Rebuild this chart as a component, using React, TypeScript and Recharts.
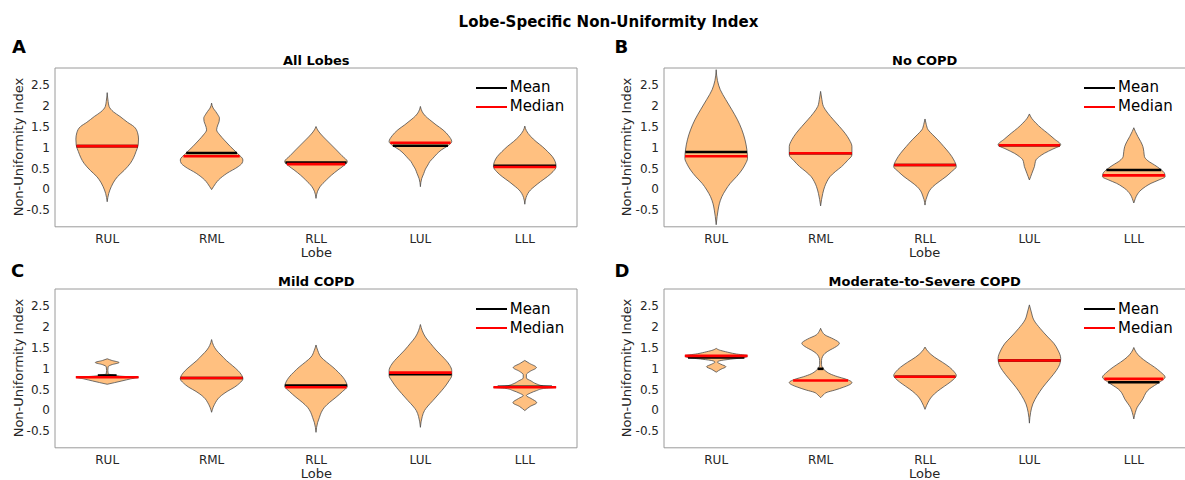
import React from 'react';
import { ComposedChart, Area, XAxis, YAxis, ReferenceLine, ReferenceArea, Legend } from 'recharts';

// ---------- data ----------
const lobes = ['RUL', 'RML', 'RLL', 'LUL', 'LLL'];
const lobeIndex = [1, 2, 3, 4, 5];
const panelLetters = ['A', 'B', 'C', 'D'];
const panelTitles = ['All Lobes', 'No COPD', 'Mild COPD', 'Moderate-to-Severe COPD'];
const yTicks = [-0.5, 0, 0.5, 1, 1.5, 2, 2.5];
const legendItems = [
  { name: 'Mean', color: '#000000' },
  { name: 'Median', color: '#ff0000' },
];

type Profile = [number, number][]; // [value, relative density 0..1]

// Panel A — All Lobes
const allLobesDensity: Profile[] = [
  [[2.31, 0], [2.1, 0.03], [1.98, 0.06], [1.85, 0.2], [1.74, 0.41], [1.6, 0.65], [1.5, 0.85], [1.35, 0.97], [1.2, 1.0], [1.06, 0.99], [0.9, 0.92], [0.75, 0.84], [0.62, 0.74], [0.45, 0.54], [0.3, 0.33], [0.15, 0.19], [0.06, 0.13], [-0.1, 0.05], [-0.2, 0.02], [-0.3, 0]],
  [[2.06, 0], [1.94, 0.05], [1.86, 0.13], [1.78, 0.2], [1.7, 0.25], [1.62, 0.24], [1.54, 0.2], [1.42, 0.16], [1.3, 0.26], [1.18, 0.4], [1.02, 0.6], [0.86, 0.82], [0.7, 1.0], [0.62, 0.97], [0.54, 0.85], [0.38, 0.49], [0.22, 0.22], [0.06, 0.06], [-0.01, 0]],
  [[1.5, 0], [1.42, 0.05], [1.32, 0.15], [1.18, 0.33], [0.94, 0.65], [0.8, 0.83], [0.66, 1.0], [0.56, 0.88], [0.46, 0.7], [0.34, 0.5], [0.22, 0.33], [0.06, 0.13], [-0.05, 0.05], [-0.22, 0]],
  [[1.98, 0], [1.85, 0.06], [1.75, 0.16], [1.66, 0.3], [1.54, 0.5], [1.42, 0.72], [1.28, 0.9], [1.14, 1.0], [1.04, 0.88], [0.94, 0.67], [0.84, 0.52], [0.74, 0.4], [0.66, 0.3], [0.58, 0.24], [0.48, 0.16], [0.38, 0.11], [0.25, 0.04], [0.06, 0]],
  [[1.51, 0], [1.4, 0.05], [1.26, 0.19], [1.14, 0.36], [1.02, 0.56], [0.9, 0.73], [0.78, 0.88], [0.66, 0.97], [0.54, 1.0], [0.42, 0.9], [0.3, 0.72], [0.18, 0.5], [0.06, 0.3], [-0.02, 0.18], [-0.1, 0.1], [-0.2, 0.04], [-0.36, 0]],
];
const allLobesMean = [1.03, 0.865, 0.64, 1.04, 0.56];
const allLobesMedian = [1.03, 0.79, 0.6, 1.11, 0.53];

// Panel B — No COPD
const noCopdDensity: Profile[] = [
  [[2.86, 0], [2.6, 0.04], [2.38, 0.13], [2.15, 0.3], [1.9, 0.5], [1.66, 0.68], [1.42, 0.82], [1.18, 0.92], [0.94, 0.98], [0.74, 1.0], [0.6, 0.93], [0.46, 0.82], [0.3, 0.65], [0.14, 0.45], [-0.02, 0.3], [-0.18, 0.18], [-0.35, 0.1], [-0.5, 0.06], [-0.65, 0.03], [-0.85, 0]],
  [[2.34, 0], [2.15, 0.04], [1.98, 0.09], [1.82, 0.23], [1.66, 0.41], [1.5, 0.6], [1.34, 0.78], [1.18, 0.92], [1.02, 1.0], [0.82, 1.0], [0.68, 0.85], [0.54, 0.67], [0.42, 0.47], [0.3, 0.3], [0.18, 0.2], [0.06, 0.13], [-0.1, 0.07], [-0.25, 0.03], [-0.4, 0]],
  [[1.68, 0], [1.55, 0.04], [1.42, 0.1], [1.3, 0.25], [1.18, 0.41], [1.02, 0.6], [0.86, 0.78], [0.7, 0.92], [0.54, 1.0], [0.42, 0.85], [0.3, 0.67], [0.18, 0.45], [0.06, 0.25], [-0.04, 0.14], [-0.14, 0.08], [-0.25, 0.03], [-0.38, 0]],
  [[1.8, 0], [1.7, 0.07], [1.58, 0.21], [1.46, 0.38], [1.34, 0.58], [1.2, 0.8], [1.06, 1.0], [0.96, 0.75], [0.86, 0.48], [0.78, 0.32], [0.7, 0.21], [0.62, 0.18], [0.54, 0.16], [0.46, 0.12], [0.38, 0.08], [0.3, 0.04], [0.22, 0]],
  [[1.47, 0], [1.38, 0.05], [1.26, 0.13], [1.14, 0.22], [1.02, 0.29], [0.9, 0.32], [0.78, 0.34], [0.68, 0.45], [0.58, 0.66], [0.48, 0.85], [0.38, 0.98], [0.3, 1.0], [0.22, 0.8], [0.14, 0.55], [0.06, 0.37], [-0.02, 0.23], [-0.14, 0.1], [-0.22, 0.05], [-0.33, 0]],
];
const noCopdMean = [0.89, 0.86, 0.58, 1.05, 0.46];
const noCopdMedian = [0.79, 0.86, 0.58, 1.05, 0.33];

// Panel C — Mild COPD
const mildDensity: Profile[] = [
  [[1.23, 0], [1.19, 0.15], [1.14, 0.38], [1.09, 0.15], [1.04, 0.03], [0.95, 0.02], [0.87, 0.03], [0.84, 0.2], [0.81, 0.5], [0.79, 1.0], [0.75, 0.75], [0.7, 0.47], [0.66, 0.24], [0.62, 0]],
  [[1.69, 0], [1.55, 0.06], [1.44, 0.15], [1.32, 0.3], [1.19, 0.47], [1.07, 0.66], [0.95, 0.84], [0.85, 0.95], [0.75, 1.0], [0.65, 0.9], [0.55, 0.73], [0.45, 0.5], [0.35, 0.31], [0.27, 0.2], [0.19, 0.13], [0.07, 0.05], [-0.05, 0]],
  [[1.56, 0], [1.42, 0.06], [1.27, 0.16], [1.15, 0.34], [1.03, 0.54], [0.91, 0.71], [0.79, 0.86], [0.67, 0.96], [0.57, 1.0], [0.45, 0.85], [0.31, 0.64], [0.19, 0.44], [0.07, 0.27], [-0.05, 0.17], [-0.17, 0.11], [-0.3, 0.05], [-0.53, 0]],
  [[2.05, 0], [1.9, 0.06], [1.75, 0.16], [1.6, 0.32], [1.44, 0.5], [1.3, 0.68], [1.19, 0.82], [1.07, 0.94], [0.95, 1.0], [0.83, 1.0], [0.7, 0.91], [0.55, 0.77], [0.4, 0.6], [0.23, 0.4], [0.1, 0.24], [-0.01, 0.13], [-0.15, 0.06], [-0.41, 0]],
  [[1.19, 0], [1.12, 0.15], [1.02, 0.37], [0.93, 0.17], [0.85, 0.05], [0.77, 0.05], [0.7, 0.2], [0.63, 0.37], [0.58, 0.6], [0.55, 1.0], [0.52, 0.6], [0.47, 0.38], [0.41, 0.18], [0.35, 0.05], [0.28, 0.2], [0.18, 0.38], [0.09, 0.17], [-0.01, 0]],
];
const mildMean = [0.83, 0.77, 0.59, 0.86, 0.56];
const mildMedian = [0.79, 0.77, 0.55, 0.9, 0.55];

// Panel D — Moderate-to-Severe COPD
const severeDensity: Profile[] = [
  [[1.48, 0], [1.44, 0.1], [1.4, 0.3], [1.35, 0.6], [1.3, 1.0], [1.26, 0.9], [1.22, 0.45], [1.18, 0.1], [1.15, 0.04], [1.1, 0.15], [1.04, 0.31], [0.98, 0.15], [0.91, 0]],
  [[1.96, 0], [1.88, 0.05], [1.8, 0.14], [1.7, 0.42], [1.6, 0.6], [1.5, 0.45], [1.44, 0.3], [1.36, 0.14], [1.28, 0.06], [1.19, 0.03], [1.09, 0.03], [1.03, 0.05], [0.95, 0.14], [0.87, 0.3], [0.8, 0.55], [0.75, 0.78], [0.66, 1.0], [0.6, 0.9], [0.55, 0.73], [0.48, 0.45], [0.43, 0.21], [0.36, 0.08], [0.3, 0]],
  [[1.51, 0], [1.4, 0.1], [1.27, 0.3], [1.15, 0.55], [1.03, 0.78], [0.92, 0.93], [0.83, 1.0], [0.73, 0.9], [0.63, 0.73], [0.51, 0.5], [0.39, 0.3], [0.29, 0.18], [0.19, 0.1], [0.02, 0]],
  [[2.52, 0], [2.35, 0.06], [2.16, 0.14], [1.95, 0.35], [1.75, 0.59], [1.6, 0.78], [1.44, 0.91], [1.24, 1.0], [1.1, 0.97], [0.95, 0.86], [0.75, 0.65], [0.55, 0.43], [0.35, 0.25], [0.15, 0.11], [-0.05, 0.04], [-0.31, 0]],
  [[1.5, 0], [1.38, 0.08], [1.27, 0.21], [1.15, 0.42], [1.03, 0.66], [0.91, 0.86], [0.79, 1.0], [0.69, 0.86], [0.59, 0.66], [0.51, 0.5], [0.43, 0.4], [0.35, 0.34], [0.27, 0.29], [0.17, 0.2], [0.07, 0.11], [-0.05, 0.05], [-0.21, 0]],
];
const severeMean = [1.26, 0.99, 0.8, 1.19, 0.67];
const severeMedian = [1.3, 0.71, 0.8, 1.19, 0.75];

// ---------- style / layout ----------
const FONT = '"DejaVu Sans", sans-serif';
const HALF_WIDTH = 0.3;
const PLOT_W = 522;
const PLOT_H = 158.8;
const ML = 15;
const YW = 40;
const MT = 40;
const XH = 30;
const MB = 11.2;
const MR = 23;
const panelPos = [
  { left: 55.3, top: 67.7, letterX: 12, letterY: 46.7 },
  { left: 663.7, top: 67.7, letterX: 614.5, letterY: 46.7 },
  { left: 55.3, top: 289, letterX: 11, letterY: 270.8 },
  { left: 663.7, top: 289, letterX: 614.5, letterY: 270.8 },
];

function widthAt(profile: Profile, v: number): number {
  for (let i = 0; i < profile.length - 1; i++) {
    const [y0, w0] = profile[i];
    const [y1, w1] = profile[i + 1];
    const lo = Math.min(y0, y1);
    const hi = Math.max(y0, y1);
    if (v >= lo && v <= hi) {
      if (hi === lo) return Math.max(w0, w1);
      return w0 + ((v - y0) / (y1 - y0)) * (w1 - w0);
    }
  }
  return 0;
}

const LegendBox = () => (
  <div style={{ fontFamily: FONT, fontSize: 15, color: '#000', lineHeight: '19px' }}>
    {legendItems.map((it) => (
      <div key={it.name} style={{ display: 'flex', alignItems: 'center', height: 19, whiteSpace: 'nowrap' }}>
        <span style={{ display: 'inline-block', width: 31, height: 0, borderTop: `2.5px solid ${it.color}`, marginRight: 3 }} />
        {it.name}
      </div>
    ))}
  </div>
);

type PanelProps = { idx: number; densities: Profile[]; means: number[]; medians: number[] };

function Panel({ idx, densities, means, medians }: PanelProps) {
  const pos = panelPos[idx];
  const chartW = ML + YW + PLOT_W + MR;
  const chartH = MT + PLOT_H + XH + MB;
  const textStyle: React.CSSProperties = {
    position: 'absolute',
    fontFamily: FONT,
    lineHeight: 1,
    whiteSpace: 'nowrap',
    transform: 'translate(-50%, -50%)',
  };
  return (
    <>
      <div style={{ position: 'absolute', left: pos.left - ML - YW, top: pos.top - MT }}>
        <ComposedChart
          layout="vertical"
          width={chartW}
          height={chartH}
          margin={{ top: MT, left: ML, right: MR, bottom: MB }}
        >
          <XAxis
            type="number"
            domain={[0.5, 5.5]}
            ticks={lobeIndex}
            tickFormatter={(v: number) => lobes[v - 1]}
            allowDataOverflow
            axisLine={false}
            tickLine={false}
            tickSize={0}
            tickMargin={8}
            height={XH}
            interval={0}
            tick={{ fontSize: 12, fill: '#262626', fontFamily: FONT }}
          />
          <YAxis
            type="number"
            dataKey="y"
            domain={[-0.9, 2.9]}
            ticks={yTicks}
            reversed
            allowDataOverflow
            axisLine={false}
            tickLine={false}
            tickSize={0}
            tickMargin={5}
            width={YW}
            interval={0}
            tick={{ fontSize: 12, fill: '#262626', fontFamily: FONT }}
          />
          <ReferenceArea x1={0.5} x2={5.5} y1={-0.9} y2={2.9} fill="none" stroke="#9a9a9a" strokeWidth={1} ifOverflow="visible" />
          {densities.map((prof, i) => (
            <Area
              key={`v${i}`}
              data={prof.map(([y, w]) => ({ y, r: [lobeIndex[i] - w * HALF_WIDTH, lobeIndex[i] + w * HALF_WIDTH] }))}
              dataKey="r"
              type="monotone"
              fill="#FFC080"
              fillOpacity={1}
              stroke="#4d4d4d"
              strokeWidth={0.8}
              dot={false}
              activeDot={false}
              isAnimationActive={false}
            />
          ))}
          {means.map((m, i) => {
            const hw = widthAt(densities[i], m) * HALF_WIDTH;
            return (
              <ReferenceLine
                key={`m${i}`}
                segment={[{ x: lobeIndex[i] - hw, y: m }, { x: lobeIndex[i] + hw, y: m }]}
                stroke="#000000"
                strokeWidth={2.6}
              />
            );
          })}
          {medians.map((m, i) => {
            const hw = widthAt(densities[i], m) * HALF_WIDTH;
            return (
              <ReferenceLine
                key={`d${i}`}
                segment={[{ x: lobeIndex[i] - hw, y: m }, { x: lobeIndex[i] + hw, y: m }]}
                stroke="#ff0000"
                strokeWidth={2.6}
              />
            );
          })}
          <Legend
            layout="vertical"
            align="center"
            verticalAlign="middle"
            wrapperStyle={{ left: ML + YW + 420.4, top: MT + 10.5, width: 'auto', height: 'auto' }}
            content={() => <LegendBox />}
          />
        </ComposedChart>
      </div>
      <div style={{ ...textStyle, left: pos.letterX, top: pos.letterY, fontSize: 18, fontWeight: 'bold', color: '#000', transform: 'translate(0, -50%)' }}>
        {panelLetters[idx]}
      </div>
      <div style={{ ...textStyle, left: pos.left + PLOT_W / 2, top: pos.top - 8, fontSize: 13, fontWeight: 'bold', color: '#000' }}>
        {panelTitles[idx]}
      </div>
      <div style={{ ...textStyle, left: pos.left + PLOT_W / 2, top: pos.top + PLOT_H + 26, fontSize: 13, lineHeight: '8px', color: '#262626' }}>
        Lobe
      </div>
      <div
        style={{
          ...textStyle,
          left: pos.left - 37.5,
          top: pos.top + PLOT_H / 2,
          fontSize: 13,
          color: '#262626',
          transform: 'translate(-50%, -50%) rotate(-90deg)',
        }}
      >
        Non-Uniformity Index
      </div>
    </>
  );
}

export default function App() {
  return (
    <div
      style={{
        position: 'absolute',
        left: 0,
        top: 0,
        width: 1185,
        height: 480,
        overflow: 'hidden',
        background: '#ffffff',
      }}
    >
      <div
        style={{
          position: 'absolute',
          left: 608.5,
          top: 21.7,
          transform: 'translate(-50%, -50%)',
          fontFamily: FONT,
          fontSize: 15,
          fontWeight: 'bold',
          lineHeight: 1,
          whiteSpace: 'nowrap',
          color: '#000',
        }}
      >
        Lobe-Specific Non-Uniformity Index
      </div>
      <Panel idx={0} densities={allLobesDensity} means={allLobesMean} medians={allLobesMedian} />
      <Panel idx={1} densities={noCopdDensity} means={noCopdMean} medians={noCopdMedian} />
      <Panel idx={2} densities={mildDensity} means={mildMean} medians={mildMedian} />
      <Panel idx={3} densities={severeDensity} means={severeMean} medians={severeMedian} />
    </div>
  );
}
